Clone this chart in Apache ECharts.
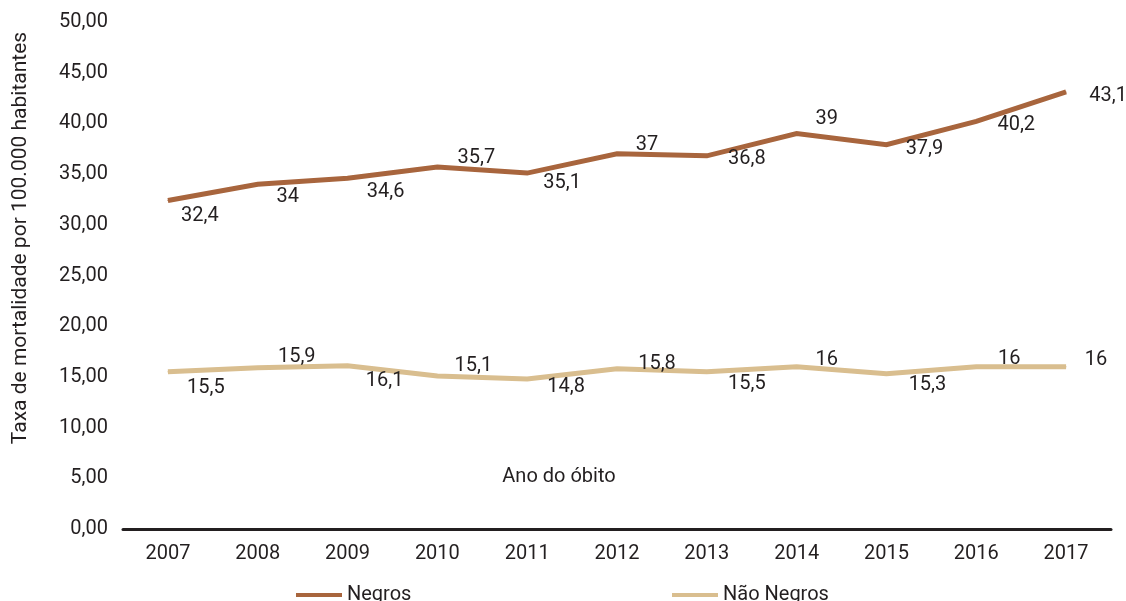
<!DOCTYPE html>
<html>
<head>
<meta charset="utf-8">
<script src="https://cdn.jsdelivr.net/npm/echarts@6/dist/echarts.min.js"></script>
<style>
  html, body { margin: 0; padding: 0; background: #ffffff; }
  #chart { width: 1126px; height: 601px; }
</style>
</head>
<body>
<div id="chart"></div>
<script>
// Taxa de mortalidade por 100.000 habitantes, por ano do óbito
const years = ['2007', '2008', '2009', '2010', '2011', '2012', '2013', '2014', '2015', '2016', '2017'];
const negros = [32.4, 34, 34.6, 35.7, 35.1, 37, 36.8, 39, 37.9, 40.2, 43.1];
const naoNegros = [15.5, 15.9, 16.1, 15.1, 14.8, 15.8, 15.5, 16, 15.3, 16, 16];
const yTicks = { min: 0, max: 50, interval: 5 };

// where each value label sits relative to its point (px, [dx, dy])
const negrosLabelShift = [[32, 16], [30, 13], [38, 14], [39, -9], [35, 10], [30, -9], [40, 3], [30, -15], [38, 4], [40, 4], [42, 4]];
const naoNegrosLabelShift = [[38, 16], [39, -11], [37, 15], [36, -10], [39, 8], [40, -5], [40, 12], [30, -7], [41, 11], [33, -8], [30, -7]];

const INK = '#231f20';
const FONT = 'Roboto';
const BROWN = '#a8653d';
const SAND = '#d9be8f';

const fmt = v => String(v).replace('.', ',');

function pointsWithLabels(values, shifts) {
  return values.map((v, i) => ({
    value: v,
    label: { offset: shifts[i] }
  }));
}

function lineSeries(name, values, shifts, color) {
  return {
    name: name,
    type: 'line',
    data: pointsWithLabels(values, shifts),
    showSymbol: true,
    symbol: 'circle',
    symbolSize: 1,
    itemStyle: { color: color },
    lineStyle: { color: color, width: 5, cap: 'butt', join: 'miter' },
    label: {
      show: true,
      position: 'inside',
      align: 'center',
      verticalAlign: 'middle',
      color: INK,
      fontFamily: FONT,
      fontSize: 20,
      formatter: p => fmt(p.value)
    },
    emphasis: { disabled: true },
    animation: false
  };
}

const chart = echarts.init(document.getElementById('chart'), null, { renderer: 'canvas' });

chart.setOption({
  animation: false,
  backgroundColor: '#ffffff',
  grid: { left: 123, right: 15, top: 22, bottom: 72, containLabel: false },
  xAxis: {
    type: 'category',
    data: years,
    boundaryGap: true,
    axisLine: { show: true, lineStyle: { color: INK, width: 3 } },
    axisTick: { show: false },
    axisLabel: { color: INK, fontFamily: FONT, fontSize: 20, margin: 15 },
    splitLine: { show: false }
  },
  yAxis: {
    type: 'value',
    min: yTicks.min,
    max: yTicks.max,
    interval: yTicks.interval,
    axisLine: { show: false },
    axisTick: { show: false },
    splitLine: { show: false },
    axisLabel: {
      color: INK,
      fontFamily: FONT,
      fontSize: 20,
      margin: 15,
      formatter: v => v.toFixed(2).replace('.', ',')
    }
  },
  legend: [
    {
      data: ['Negros'],
      left: 296,
      top: 585,
      icon: 'rect',
      itemWidth: 46,
      itemHeight: 4,
      padding: 0,
      textStyle: { color: INK, fontFamily: FONT, fontSize: 20 },
      selectedMode: false
    },
    {
      data: ['Não Negros'],
      left: 672,
      top: 585,
      icon: 'rect',
      itemWidth: 46,
      itemHeight: 4,
      padding: 0,
      textStyle: { color: INK, fontFamily: FONT, fontSize: 20 },
      selectedMode: false
    }
  ],
  graphic: [
    {
      type: 'text',
      x: 21,
      y: 238,
      rotation: Math.PI / 2,
      style: {
        text: 'Taxa de mortalidade por 100.000 habitantes',
        fill: INK,
        font: '21px Roboto',
        align: 'center',
        verticalAlign: 'middle'
      }
    },
    {
      type: 'text',
      x: 559,
      y: 477,
      style: {
        text: 'Ano do óbito',
        fill: INK,
        font: '20px Roboto',
        align: 'center',
        verticalAlign: 'middle'
      }
    }
  ],
  series: [
    lineSeries('Negros', negros, negrosLabelShift, BROWN),
    lineSeries('Não Negros', naoNegros, naoNegrosLabelShift, SAND)
  ]
});
</script>
</body>
</html>
